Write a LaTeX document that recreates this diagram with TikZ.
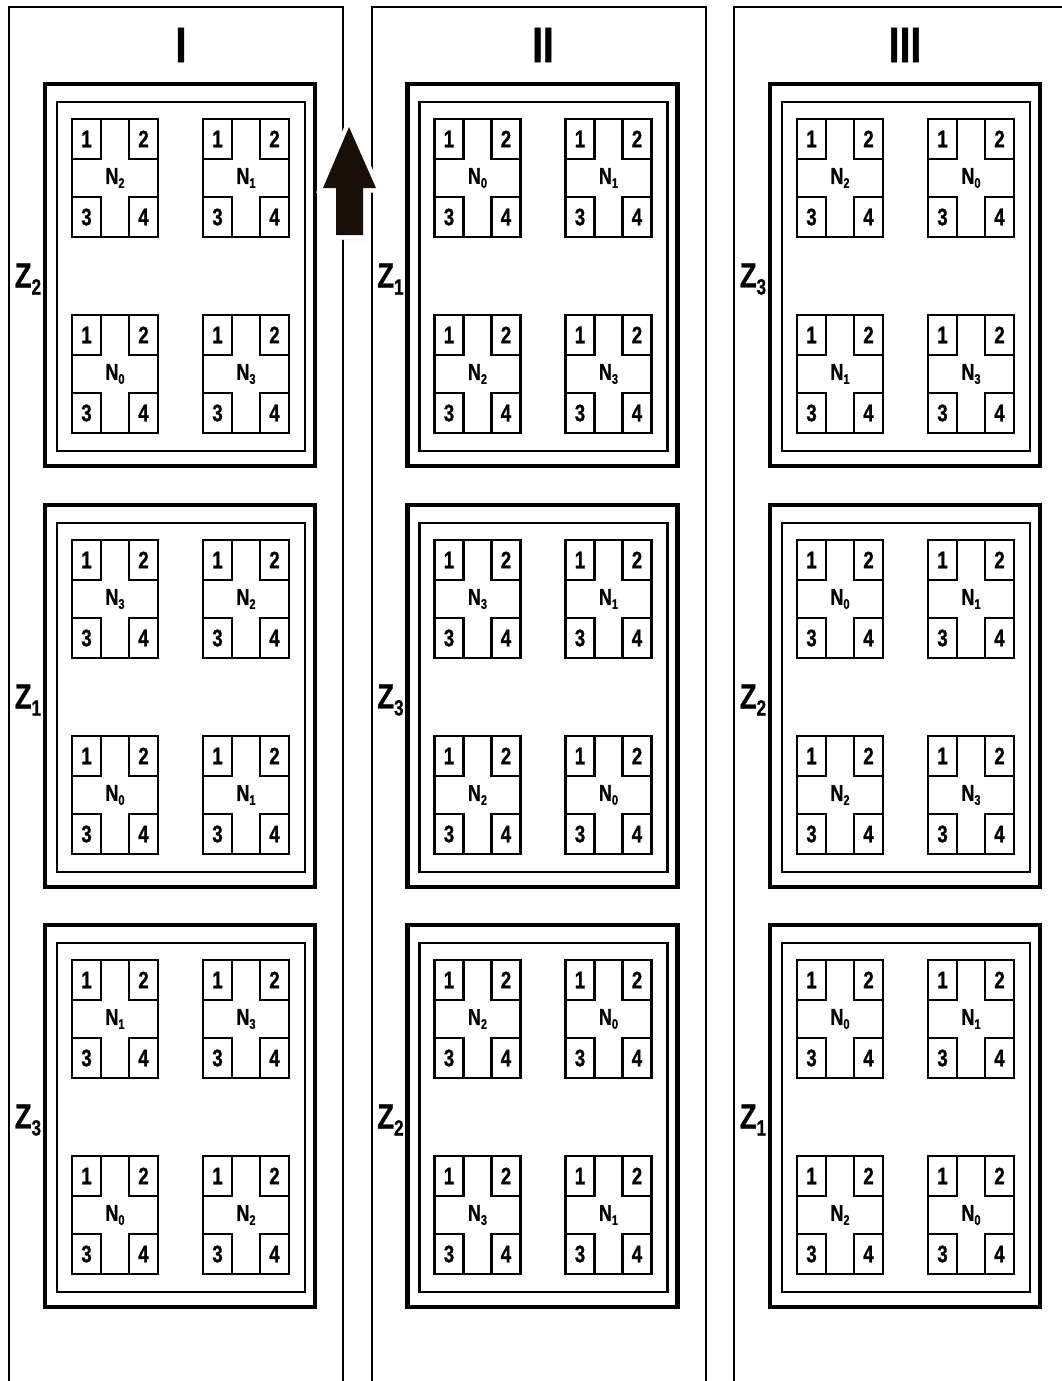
\documentclass[tikz,border=0pt]{standalone}
\usepackage{fontspec}
\setmainfont{Liberation Sans}[FakeStretch=0.78,BoldFeatures={FakeBold=0.8}]
\begin{document}
\begin{tikzpicture}[x=1pt,y=-1pt,
  colline/.style={line width=2.2pt},
  outerbox/.style={line width=4.2pt},
  innerbox/.style={line width=2.4pt},
  modbox/.style={line width=2.2pt},
  digit/.style={font=\fontsize{24}{24}\selectfont\bfseries, inner sep=0pt},
  nlabel/.style={font=\fontsize{23}{23}\selectfont\bfseries, inner sep=0pt},
  zlabel/.style={font=\fontsize{35}{35}\selectfont\bfseries, inner sep=0pt},
  roman/.style={font=\fontsize{50}{50}\selectfont\bfseries, inner sep=0pt}]
\useasboundingbox (0,0) rectangle (1062,1381);
\clip (0,0) rectangle (1062,1381);
\newcommand{\nsub}[1]{N\raisebox{-4pt}{\fontsize{14}{14}\selectfont #1}}
\newcommand{\zsub}[1]{Z\raisebox{-7pt}{\fontsize{22}{22}\selectfont #1}}
% columns
\draw[colline] (9,1400) -- (9,7) -- (343,7) -- (343,1400);
\draw[colline] (372,1400) -- (372,7) -- (706,7) -- (706,1400);
\draw[colline] (734,1400) -- (734,7) -- (1075,7);
\node[roman] (rI) at (181,45) {I};
\node[roman] (rII) at (543,45) {II};
\node[roman] (rIII) at (905,45) {III};
% one module
\newcommand{\module}[4]{% x y name label
  \begin{scope}[shift={(#1,#2)}]
    \draw[modbox] (0,0) rectangle (86,118);
    \draw[modbox] (0,0) rectangle (29,40);
    \draw[modbox] (57,0) rectangle (86,40);
    \draw[modbox] (0,78) rectangle (29,118);
    \draw[modbox] (57,78) rectangle (86,118);
    \node[digit] (#3-a) at (14.5,20) {1};
    \node[digit] (#3-b) at (71.5,20) {2};
    \node[digit] (#3-c) at (14.5,98) {3};
    \node[digit] (#3-d) at (71.5,98) {4};
    \node[nlabel] (#3-n) at (43,59) {\nsub{#4}};
  \end{scope}}
\newcommand{\zone}[8]{% xoff yoff name z n1 n2 n3 n4
  \begin{scope}[shift={(#1,#2)}]
    \draw[outerbox] (45,84) rectangle (315,466);
    \draw[innerbox] (57,102) rectangle (305,451);
    \node[zlabel] (#3-z) at (28,279) {\zsub{#4}};
    \module{72}{119}{#3-m1}{#5}
    \module{203}{119}{#3-m2}{#6}
    \module{72}{315}{#3-m3}{#7}
    \module{203}{315}{#3-m4}{#8}
  \end{scope}}
\zone{0}{0}{a1}{2}{2}{1}{0}{3}
\zone{0}{421}{a2}{1}{3}{2}{0}{1}
\zone{0}{841}{a3}{3}{1}{3}{0}{2}
\zone{362.5}{0}{b1}{1}{0}{1}{2}{3}
\zone{362.5}{421}{b2}{3}{3}{1}{2}{0}
\zone{362.5}{841}{b3}{2}{2}{0}{3}{1}
\zone{725}{0}{c1}{3}{2}{0}{1}{3}
\zone{725}{421}{c2}{2}{0}{1}{2}{3}
\zone{725}{841}{c3}{1}{0}{1}{2}{0}
% arrow
\fill[black!25, opacity=0.6] (351,131) -- (379,192) -- (366,192) -- (366,240) -- (339,240) -- (339,192) -- (326,192) -- cycle;
\draw[white, line width=9pt, line join=miter, fill=white] (349,127) -- (376,188) -- (363,188) -- (363,235) -- (336,235) -- (336,188) -- (323,188) -- cycle;
\fill[black!88!brown] (349,127) -- (376,188) -- (363,188) -- (363,235) -- (336,235) -- (336,188) -- (323,188) -- cycle;
\end{tikzpicture}
\end{document}
